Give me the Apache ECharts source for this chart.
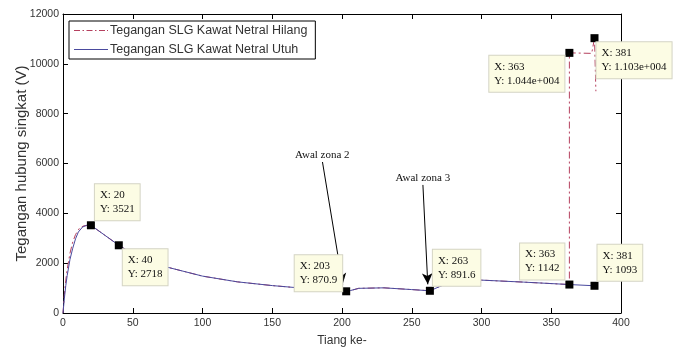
<!DOCTYPE html>
<html>
<head>
<meta charset="utf-8">
<script src="https://cdn.jsdelivr.net/npm/echarts@6/dist/echarts.min.js"></script>
<style>html,body{margin:0;padding:0;background:#fff}#c{width:681px;height:352px}</style>
</head>
<body>
<div id="c"></div>
<script>
// ---- data ----
const utuhX = [0, 1, 2, 3, 5, 7, 9, 11, 14, 17, 20, 40, 55, 74, 100, 125, 150, 175, 203, 206, 212, 230, 250, 263, 270, 280, 300, 330, 363, 381];
const utuhY = [0, 600, 1100, 1500, 2150, 2600, 2980, 3250, 3450, 3520, 3521, 2718, 2200, 1850, 1480, 1250, 1100, 980, 871, 900, 990, 1010, 940, 892, 1060, 1300, 1320, 1240, 1142, 1093];
const hilangX = [0, 1, 2, 3, 5, 7, 9, 12, 15, 20, 40, 55, 74, 100, 125, 150, 175, 203, 206, 212, 230, 250, 263, 270, 280, 300, 330, 363, 363, 379, 381, 382];
const hilangY = [0, 750, 1320, 1750, 2400, 2850, 3150, 3420, 3500, 3521, 2718, 2200, 1850, 1480, 1250, 1100, 980, 871, 900, 990, 1010, 940, 892, 1060, 1300, 1320, 1240, 1142, 10440, 10420, 11030, 8900];
const tipX = [20, 40, 203, 263, 363, 381, 363, 381];
const tipY = [3521, 2718, 870.9, 891.6, 1142, 1093, 10440, 11030];
const xTicks = {min: 0, max: 400, interval: 50};
const yTicks = {min: 0, max: 12000, interval: 2000};
const zona2 = {text: 'Awal zona 2', from: [186, 6060], to: [200.5, 1150]};
const zona3 = {text: 'Awal zona 3', from: [258, 5140], to: [261.5, 1150]};
const seriesNames = ['Tegangan SLG Kawat Netral Hilang', 'Tegangan SLG Kawat Netral Utuh'];

// ---- layout of the data tips (box corner relative to the marker's top-left) ----
const tipLayout = [
  {dx: 8, dy: -37, side: 'left'},
  {dx: 8, dy: 8, side: 'left'},
  {dx: 0, dy: -32, side: 'right'},
  {dx: 7, dy: -37, side: 'left'},
  {dx: -1, dy: -37, side: 'right'},
  {dx: 7, dy: -37, side: 'left'},
  {dx: -1, dy: 7, side: 'right'},
  {dx: 6, dy: 8, side: 'left'}
];

function matFmt(v) {
  let s = Number(v).toPrecision(4);
  if (s.indexOf('e') >= 0) {
    const m = s.match(/^(.*)e([+-])(\d+)$/);
    s = m[1] + 'e' + m[2] + m[3].padStart(3, '0');
  } else if (s.indexOf('.') >= 0) {
    s = s.replace(/\.?0+$/, '');
  }
  return s;
}

const zip = (xs, ys) => xs.map((x, i) => [x, ys[i]]);
const RED = '#b5405e', BLUE = '#4a4a9e';
const tipFont = 'Liberation Serif';
const PAD_H = 5;

const measureCtx = document.createElement('canvas').getContext('2d');
measureCtx.font = '11px "' + tipFont + '"';
const textW = (s) => measureCtx.measureText(s).width;

const tipData = tipX.map((x, i) => {
  const lines = ['X: ' + x, 'Y: ' + matFmt(tipY[i])];
  const w = Math.max(...lines.map(textW)) + 2 * PAD_H;
  const L = tipLayout[i];
  const dx = L.side === 'left' ? L.dx : L.dx - w;
  return {
    value: [x, tipY[i]],
    label: {
      show: true,
      position: [dx, L.dy],
      align: 'left',
      verticalAlign: 'top',
      formatter: lines.join('\n'),
      fontFamily: tipFont, fontSize: 11, lineHeight: 14, color: '#111',
      backgroundColor: '#fcfce4', borderColor: '#d4d4c4', borderWidth: 1,
      padding: [4, PAD_H, 4, PAD_H]
    }
  };
});

const arrowLine = (z) => [
  {coord: z.from, label: {show: true, formatter: z.text, position: 'start', distance: 1,
    fontFamily: tipFont, fontSize: 11, color: '#111'}},
  {coord: z.to}
];

const axisCommon = {
  axisLine: {show: true, onZero: false, lineStyle: {color: '#000', width: 1}},
  axisTick: {show: true, inside: true, length: 5, lineStyle: {color: '#000'}},
  splitLine: {show: false}
};
const plain = (v) => String(v);

// legend glyphs: dash-dot and solid line samples
const ICON_DASHDOT = 'path://M0,0h6v1h-6z M8.5,0h1.5v1h-1.5z M12.5,0h6v1h-6z M21,0h1.5v1h-1.5z M25,0h6v1h-6z M33,0h1v1h-1z';
const ICON_SOLID = 'path://M0,0h34v1h-34z';

const chart = echarts.init(document.getElementById('c'), null, {renderer: 'canvas'});
chart.setOption({
  animation: false,
  backgroundColor: '#fff',
  grid: {left: 63, right: 60, top: 14, bottom: 39, containLabel: false, outerBoundsMode: 'none'},
  legend: {
    orient: 'vertical', left: 69, top: 21,
    backgroundColor: '#fff', borderColor: '#000', borderWidth: 1,
    padding: [3, 8, 3, 5], itemGap: 6, itemWidth: 34, itemHeight: 1.3,
    textStyle: {fontFamily: 'Liberation Sans', fontSize: 12.5, color: '#333', padding: [0, 0, 0, -3]},
    data: [{name: seriesNames[0], icon: ICON_DASHDOT}, {name: seriesNames[1], icon: ICON_SOLID}]
  },
  xAxis: [
    Object.assign({type: 'value', position: 'bottom', min: xTicks.min, max: xTicks.max, interval: xTicks.interval,
      name: 'Tiang ke-', nameLocation: 'middle', nameGap: 22, nameMoveOverlap: false,
      nameTextStyle: {fontFamily: 'Liberation Sans', fontSize: 12, color: '#333'},
      axisLabel: {fontFamily: 'Liberation Sans', fontSize: 10.5, color: '#333', margin: 5, formatter: plain}}, axisCommon),
    Object.assign({type: 'value', position: 'top', min: xTicks.min, max: xTicks.max, interval: xTicks.interval,
      axisLabel: {show: false}}, axisCommon)
  ],
  yAxis: [
    Object.assign({type: 'value', position: 'left', min: yTicks.min, max: yTicks.max, interval: yTicks.interval,
      name: 'Tegangan hubung singkat (V)', nameLocation: 'middle', nameGap: 34, nameMoveOverlap: false,
      nameTextStyle: {fontFamily: 'Liberation Sans', fontSize: 15, color: '#333'},
      axisLabel: {fontFamily: 'Liberation Sans', fontSize: 10.5, color: '#333', margin: 4, formatter: plain}}, axisCommon),
    Object.assign({type: 'value', position: 'right', min: yTicks.min, max: yTicks.max, interval: yTicks.interval,
      axisLabel: {show: false}}, axisCommon)
  ],
  series: [
    {
      name: seriesNames[0], type: 'line', data: zip(hilangX, hilangY), symbol: 'none', smooth: false,
      lineStyle: {color: RED, width: 1, type: [7, 3, 2, 3]}, itemStyle: {color: RED}, z: 2
    },
    {
      name: seriesNames[1], type: 'line', data: zip(utuhX, utuhY), symbol: 'none', smooth: false,
      lineStyle: {color: BLUE, width: 1}, itemStyle: {color: BLUE}, z: 3,
      markLine: {
        silent: true, symbol: ['none', 'arrow'], symbolSize: [8, 11],
        lineStyle: {color: '#000', width: 1, type: 'solid'},
        data: [arrowLine(zona2), arrowLine(zona3)]
      }
    },
    {
      name: 'tips', type: 'scatter', data: tipData, symbol: 'rect', symbolSize: 8,
      itemStyle: {color: '#000', opacity: 1}, z: 5
    }
  ]
});
</script>
</body>
</html>
